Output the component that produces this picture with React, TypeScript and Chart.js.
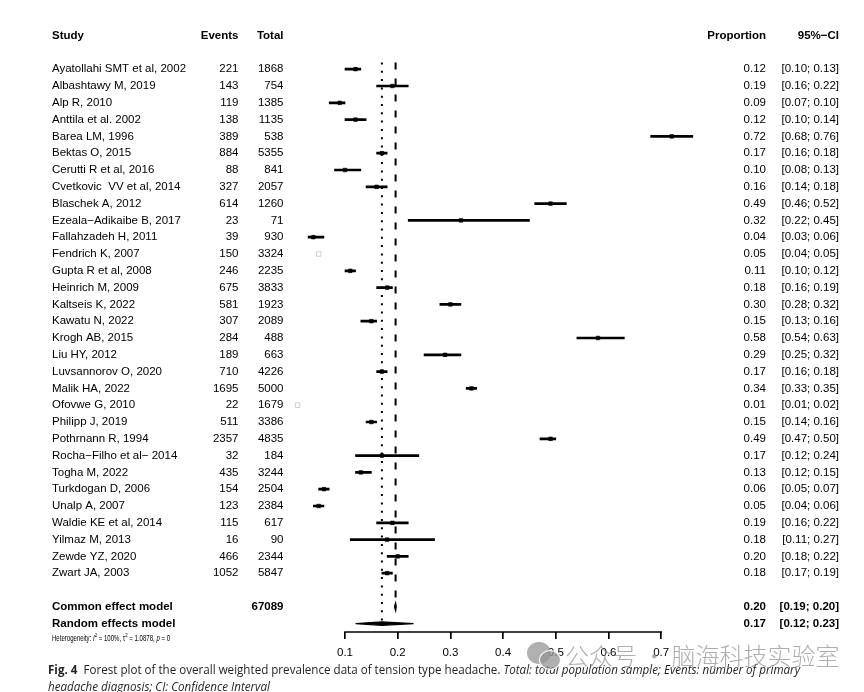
import React, { useEffect, useRef } from "react";
import { Chart, registerables } from "chart.js";

Chart.register(...registerables);

// ---------------- data ----------------
const studies = [
  "Ayatollahi SMT et al, 2002",
  "Albashtawy M, 2019",
  "Alp R, 2010",
  "Anttila et al. 2002",
  "Barea LM, 1996",
  "Bektas O, 2015",
  "Cerutti R et al, 2016",
  "Cvetkovic  VV et al, 2014",
  "Blaschek A, 2012",
  "Ezeala\u2212Adikaibe B, 2017",
  "Fallahzadeh H, 2011",
  "Fendrich K, 2007",
  "Gupta R et al, 2008",
  "Heinrich M, 2009",
  "Kaltseis K, 2022",
  "Kawatu N, 2022",
  "Krogh AB, 2015",
  "Liu HY, 2012",
  "Luvsannorov O, 2020",
  "Malik HA, 2022",
  "Ofovwe G, 2010",
  "Philipp J, 2019",
  "Pothrnann R, 1994",
  "Rocha\u2212Filho et al\u2212 2014",
  "Togha M, 2022",
  "Turkdogan D, 2006",
  "Unalp A, 2007",
  "Waldie KE et al, 2014",
  "Yilmaz M, 2013",
  "Zewde YZ, 2020",
  "Zwart JA, 2003",
];

const events = [
  221, 143, 119, 138, 389, 884, 88, 327, 614, 23, 39, 150, 246, 675, 581, 307,
  284, 189, 710, 1695, 22, 511, 2357, 32, 435, 154, 123, 115, 16, 466, 1052,
];

const totals = [
  1868, 754, 1385, 1135, 538, 5355, 841, 2057, 1260, 71, 930, 3324, 2235, 3833,
  1923, 2089, 488, 663, 4226, 5000, 1679, 3386, 4835, 184, 3244, 2504, 2384,
  617, 90, 2344, 5847,
];

const proportion = [
  0.12, 0.19, 0.09, 0.12, 0.72, 0.17, 0.1, 0.16, 0.49, 0.32, 0.04, 0.05, 0.11,
  0.18, 0.3, 0.15, 0.58, 0.29, 0.17, 0.34, 0.01, 0.15, 0.49, 0.17, 0.13, 0.06,
  0.05, 0.19, 0.18, 0.2, 0.18,
];

const ciLower = [
  0.1, 0.16, 0.07, 0.1, 0.68, 0.16, 0.08, 0.14, 0.46, 0.22, 0.03, 0.04, 0.1,
  0.16, 0.28, 0.13, 0.54, 0.25, 0.16, 0.33, 0.01, 0.14, 0.47, 0.12, 0.12, 0.05,
  0.04, 0.16, 0.11, 0.18, 0.17,
];

const ciUpper = [
  0.13, 0.22, 0.1, 0.14, 0.76, 0.18, 0.13, 0.18, 0.52, 0.45, 0.06, 0.05, 0.12,
  0.19, 0.32, 0.16, 0.63, 0.32, 0.18, 0.35, 0.02, 0.16, 0.5, 0.24, 0.15, 0.07,
  0.06, 0.22, 0.27, 0.22, 0.19,
];

const commonTotal = 67089;
// [estimate, lower, upper]
const commonEffect = [0.196, 0.194, 0.197];
const randomEffect = [0.17, 0.12, 0.23];

const xTicks = [0.1, 0.2, 0.3, 0.4, 0.5, 0.6, 0.7];

const heterogeneityI2 = "100%";
const heterogeneityTau2 = "1.0878";
const heterogeneityP = "0";

// studies whose marks render faintly in the figure (style only)
const faintStudies = ["Fendrich K, 2007", "Ofovwe G, 2010"];

// ---------------- layout helpers ----------------
const FONT = "'Liberation Sans', Arial, Helvetica, sans-serif";
const ROW_HEADER = -2;
const ROW_COMMON = studies.length + 1;
const ROW_RANDOM = studies.length + 2;
const ROW_HET = studies.length + 3;

const COL = {
  study: 52,
  events: 238.5,
  total: 283.5,
  prop: 766,
  ci: 839,
};
const HET_WIDTH = 118;

const fmt = (v: number) => v.toFixed(2);
const ciText = (lo: number, hi: number) => `[${fmt(lo)}; ${fmt(hi)}]`;
const isFaint = (i: number) => faintStudies.includes(studies[i]);

const textPlugin = {
  id: "forestText",
  afterDraw(chart: any) {
    const ctx = chart.ctx as CanvasRenderingContext2D;
    const ys = chart.scales.y;
    const xs = chart.scales.x;
    const area = chart.chartArea;
    const norm = `11.5px ${FONT}`;
    const bold = `bold 11.5px ${FONT}`;
    ctx.save();
    ctx.fillStyle = "#000";
    ctx.strokeStyle = "#000";
    ctx.textBaseline = "middle";

    // header
    const yh = ys.getPixelForValue(ROW_HEADER);
    ctx.font = bold;
    ctx.textAlign = "left";
    ctx.fillText("Study", COL.study, yh);
    ctx.textAlign = "right";
    ctx.fillText("Events", COL.events, yh);
    ctx.fillText("Total", COL.total, yh);
    ctx.fillText("Proportion", COL.prop, yh);
    ctx.fillText("95%\u2212CI", COL.ci, yh);

    // study rows
    ctx.font = norm;
    studies.forEach((s, i) => {
      const yy = ys.getPixelForValue(i);
      ctx.textAlign = "left";
      ctx.fillText(s, COL.study, yy);
      ctx.textAlign = "right";
      ctx.fillText(String(events[i]), COL.events, yy);
      ctx.fillText(String(totals[i]), COL.total, yy);
      ctx.fillText(fmt(proportion[i]), COL.prop, yy);
      ctx.fillText(ciText(ciLower[i], ciUpper[i]), COL.ci, yy);
    });

    // summary rows
    ctx.font = bold;
    const yc = ys.getPixelForValue(ROW_COMMON);
    ctx.textAlign = "left";
    ctx.fillText("Common effect model", COL.study, yc);
    ctx.textAlign = "right";
    ctx.fillText(String(commonTotal), COL.total, yc);
    ctx.fillText(fmt(commonEffect[0]), COL.prop, yc);
    ctx.fillText(ciText(commonEffect[1], commonEffect[2]), COL.ci, yc);

    const yr = ys.getPixelForValue(ROW_RANDOM);
    ctx.textAlign = "left";
    ctx.fillText("Random effects model", COL.study, yr);
    ctx.textAlign = "right";
    ctx.fillText(fmt(randomEffect[0]), COL.prop, yr);
    ctx.fillText(ciText(randomEffect[1], randomEffect[2]), COL.ci, yr);

    // heterogeneity
    const yhet = ys.getPixelForValue(ROW_HET) - 2;
    const fs = 8.4;
    const runs: { t: string; it?: boolean; sup?: boolean }[] = [
      { t: "Heterogeneity: " },
      { t: "I", it: true },
      { t: "2", sup: true },
      { t: ` = ${heterogeneityI2}, ` },
      { t: "\u03C4" },
      { t: "2", sup: true },
      { t: ` = ${heterogeneityTau2}, ` },
      { t: "p", it: true },
      { t: ` = ${heterogeneityP}` },
    ];
    const fontFor = (r: { it?: boolean; sup?: boolean }) =>
      `${r.it ? "italic " : ""}${r.sup ? fs * 0.72 : fs}px ${FONT}`;
    let total = 0;
    runs.forEach((r) => {
      ctx.font = fontFor(r);
      total += ctx.measureText(r.t).width;
    });
    ctx.save();
    ctx.translate(COL.study, yhet);
    ctx.scale(HET_WIDTH / total, 1);
    let cx = 0;
    ctx.textAlign = "left";
    runs.forEach((r) => {
      ctx.font = fontFor(r);
      ctx.fillText(r.t, cx, r.sup ? -3 : 0);
      cx += ctx.measureText(r.t).width;
    });
    ctx.restore();

    // axis line from first to last tick
    ctx.lineWidth = 1.7;
    ctx.beginPath();
    ctx.moveTo(xs.getPixelForValue(xTicks[0]) - 0.85, area.bottom);
    ctx.lineTo(xs.getPixelForValue(xTicks[xTicks.length - 1]) + 0.85, area.bottom);
    ctx.stroke();
    ctx.restore();
  },
};

function diamond(est: number, lo: number, hi: number, row: number, half: number) {
  return [
    { x: lo, y: row },
    { x: est, y: row - half },
    { x: hi, y: row },
    { x: est, y: row + half },
    { x: lo, y: row },
  ];
}

export default function App() {
  const canvasRef = useRef<HTMLCanvasElement>(null);
  const cap1 = useRef<HTMLDivElement>(null);
  const cap2 = useRef<HTMLDivElement>(null);

  useEffect(() => {
    const canvas = canvasRef.current!;
    const chart = new Chart(canvas, {
      type: "scatter",
      data: {
        datasets: [
          {
            type: "line",
            label: "common",
            data: [
              { x: commonEffect[0], y: -0.4 },
              { x: commonEffect[0], y: ROW_COMMON - 0.5 },
            ],
            borderColor: "#000",
            borderWidth: 2,
            borderDash: [7, 9],
            pointRadius: 0,
            fill: false,
            tension: 0,
          } as any,
          {
            type: "line",
            label: "random",
            data: [
              { x: randomEffect[0], y: -0.4 },
              { x: randomEffect[0], y: ROW_RANDOM - 0.15 },
            ],
            borderColor: "#000",
            borderWidth: 2,
            borderDash: [2, 6.3],
            pointRadius: 0,
            fill: false,
            tension: 0,
          } as any,
          {
            type: "bar",
            label: "ci",
            indexAxis: "y",
            data: studies.map((_, i) => ({ y: i, x: [ciLower[i], ciUpper[i]] })),
            backgroundColor: (c: any) => (isFaint(c.dataIndex) ? "rgba(0,0,0,0)" : "#000"),
            borderWidth: 0,
            barThickness: 2,
            grouped: false,
          } as any,
          {
            type: "scatter",
            label: "est",
            data: studies.map((_, i) => ({ x: proportion[i], y: i })),
            pointStyle: "rect",
            pointRadius: (c: any) => (isFaint(c.dataIndex) ? 3.2 : 2.6),
            pointBackgroundColor: (c: any) => (isFaint(c.dataIndex) ? "rgba(0,0,0,0)" : "#000"),
            pointBorderColor: (c: any) => (isFaint(c.dataIndex) ? "#cfcfcf" : "#000"),
            pointBorderWidth: (c: any) => (isFaint(c.dataIndex) ? 1 : 0.5),
          } as any,
          {
            type: "line",
            label: "commonDiamond",
            data: diamond(commonEffect[0], commonEffect[1], commonEffect[2], ROW_COMMON, 0.2),
            borderColor: "#000",
            backgroundColor: "#000",
            borderWidth: 1.5,
            pointRadius: 0,
            fill: "shape",
            tension: 0,
          } as any,
          {
            type: "line",
            label: "randomDiamond",
            data: diamond(randomEffect[0], randomEffect[1], randomEffect[2], ROW_RANDOM, 0.1),
            borderColor: "#000",
            backgroundColor: "#000",
            borderWidth: 1.2,
            pointRadius: 0,
            fill: "shape",
            tension: 0,
          } as any,
        ],
      },
      options: {
        animation: false,
        responsive: false,
        maintainAspectRatio: false,
        layout: { padding: { left: 292.3, right: 150.1, top: 18.8, bottom: 30 } },
        plugins: {
          legend: { display: false },
          tooltip: { enabled: false },
          title: { display: false },
        },
        scales: {
          x: {
            type: "linear",
            min: 0,
            max: 0.8,
            offset: false,
            position: "bottom",
            afterBuildTicks: (axis: any) => {
              axis.ticks = xTicks.map((v) => ({ value: v }));
            },
            afterFit: (axis: any) => {
              axis.height = 30;
            },
            border: { display: false },
            grid: {
              display: true,
              offset: false,
              drawOnChartArea: false,
              drawTicks: true,
              tickLength: 7,
              lineWidth: 1.7,
              color: "#000",
            },
            ticks: {
              color: "#000",
              font: { family: FONT, size: 11.5 },
              padding: 7,
              maxRotation: 0,
              autoSkip: false,
              callback: (v: any) => String(v),
            },
          },
          y: {
            type: "linear",
            display: false,
            reverse: true,
            offset: false,
            grid: { offset: false },
            min: -3,
            max: 33.5,
          },
        },
      } as any,
      plugins: [textPlugin],
    });

    // fit caption width to the figure width
    const target = 752;
    if (cap1.current && cap2.current) {
      const w = cap1.current.scrollWidth;
      if (w > 0) {
        const s = target / w;
        cap1.current.style.transform = `scaleX(${s})`;
        cap2.current.style.transform = `scaleX(${s})`;
      }
    }

    return () => chart.destroy();
  }, []);

  const capStyle: React.CSSProperties = {
    position: "absolute",
    left: 48,
    whiteSpace: "nowrap",
    display: "inline-block",
    transformOrigin: "left top",
    fontFamily: "'Open Sans', 'Noto Sans', sans-serif",
    fontSize: 12.8,
    lineHeight: "16px",
    color: "#231f20",
  };

  return (
    <div
      style={{
        position: "fixed",
        left: 0,
        top: 0,
        width: 864,
        height: 692,
        overflow: "hidden",
        background: "#fff",
      }}
    >
      <canvas
        ref={canvasRef}
        width={864}
        height={692}
        style={{ position: "absolute", left: 0, top: 0, width: 864, height: 692 }}
      />
      <div ref={cap1} style={{ ...capStyle, top: 661 }}>
        <b>Fig. 4</b>
        {"\u00A0\u00A0Forest plot of the overall weighted prevalence data of tension type headache. "}
        <i>Total: total population sample; Events: number of primary</i>
      </div>
      <div ref={cap2} style={{ ...capStyle, top: 678 }}>
        <i>headache diagnosis; CI: Confidence Interval</i>
      </div>
      {/* watermark */}
      <div
        style={{
          position: "absolute",
          left: 527,
          top: 642,
          width: 24,
          height: 22,
          borderRadius: "50%",
          background: "rgba(150,150,150,0.75)",
        }}
      />
      <div
        style={{
          position: "absolute",
          left: 539,
          top: 650,
          width: 20,
          height: 18,
          borderRadius: "50%",
          background: "rgba(150,150,150,0.75)",
          border: "1.5px solid #fff",
        }}
      />
      <div
        style={{
          position: "absolute",
          left: 565,
          top: 640,
          whiteSpace: "nowrap",
          fontFamily: "'Noto Sans CJK SC', sans-serif",
          fontSize: 24,
          lineHeight: "30px",
          color: "rgba(140,140,140,0.7)",
          fontWeight: 300,
        }}
      >
        公众号 · 脑海科技实验室
      </div>
    </div>
  );
}
